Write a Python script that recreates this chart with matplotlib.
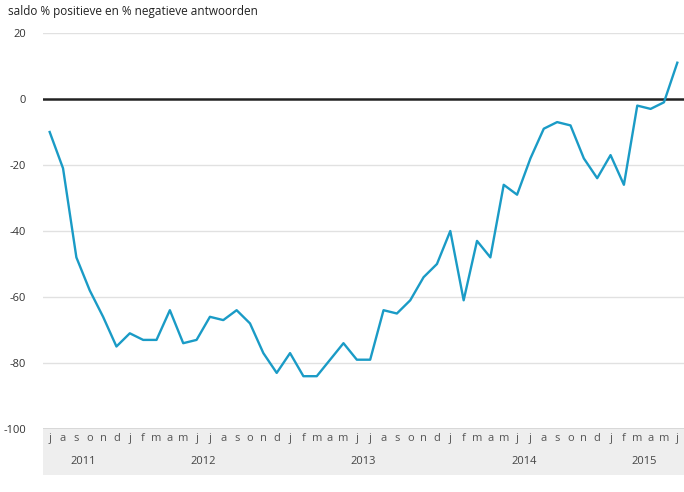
import matplotlib.pyplot as plt
from matplotlib.transforms import blended_transform_factory

# saldo per month, jul 2011 .. jun 2015
months = ['j', 'a', 's', 'o', 'n', 'd'] + ['j', 'f', 'm', 'a', 'm', 'j', 'j', 'a', 's', 'o', 'n', 'd'] * 3 + ['j', 'f', 'm', 'a', 'm', 'j']
saldo = [-10, -21, -48, -58, -66, -75,
         -71, -73, -73, -64, -74, -73, -66, -67, -64, -68, -77, -83,
         -77, -84, -84, -79, -74, -79, -79, -64, -65, -61, -54, -50,
         -40, -61, -43, -48, -26, -29, -18, -9, -7, -8, -18, -24,
         -17, -26, -2, -3, -1, 11]
years = ['2011', '2012', '2013', '2014', '2015']
year_pos = [2.5, 11.5, 23.5, 35.5, 44.5]
yticks = [20, 0, -20, -40, -60, -80, -100]

plt.rcParams['font.family'] = ['Open Sans', 'DejaVu Sans']

W, H = 684, 492
fig = plt.figure(figsize=(W / 100, H / 100), dpi=100)

# grey band under the plot holding the month / year labels
band = fig.add_axes([43 / W, (H - 475) / H, 641 / W, 47 / H])
band.set_facecolor('#eeeeee')
band.set_xticks([])
band.set_yticks([])
for s in band.spines.values():
    s.set_visible(False)
band.axhline(1, color='#d4d4d4', lw=1.2)

ax = fig.add_axes([43 / W, (H - 429) / H, 641 / W, 396 / H])
ax.patch.set_alpha(0)
x = list(range(len(saldo)))
ax.set_xlim(-0.5, len(saldo) - 0.5)
band.set_xlim(-0.5, len(saldo) - 0.5)
ax.set_ylim(-100, 20)

for v in yticks:
    if v not in (0, -100):
        ax.axhline(v, color='#e1e1e1', lw=1, zorder=1)
ax.axhline(0, color='#222222', lw=1.8, zorder=2)
ax.plot(x, saldo, color='#1a9bc6', lw=1.7, zorder=3)

ax.set_yticks(yticks)
ax.set_yticklabels([str(v) for v in yticks], fontsize=8, color='#333333')
ax.tick_params(axis='y', length=0, pad=12)
ax.set_xticks(x)
ax.set_xticklabels(months, fontsize=8, color='#555555')
ax.tick_params(axis='x', length=0, pad=3)
for s in ax.spines.values():
    s.set_visible(False)

tr = blended_transform_factory(ax.transData, fig.transFigure)
for yr, p in zip(years, year_pos):
    ax.text(p, (H - 461) / H, yr, transform=tr, ha='center', va='center', fontsize=8, color='#444444')

fig.text(8 / W, (H - 12) / H, 'saldo % positieve en % negatieve antwoorden', fontsize=8.5, color='#222222', va='center', ha='left')

fig.savefig('out.png', dpi=100)
